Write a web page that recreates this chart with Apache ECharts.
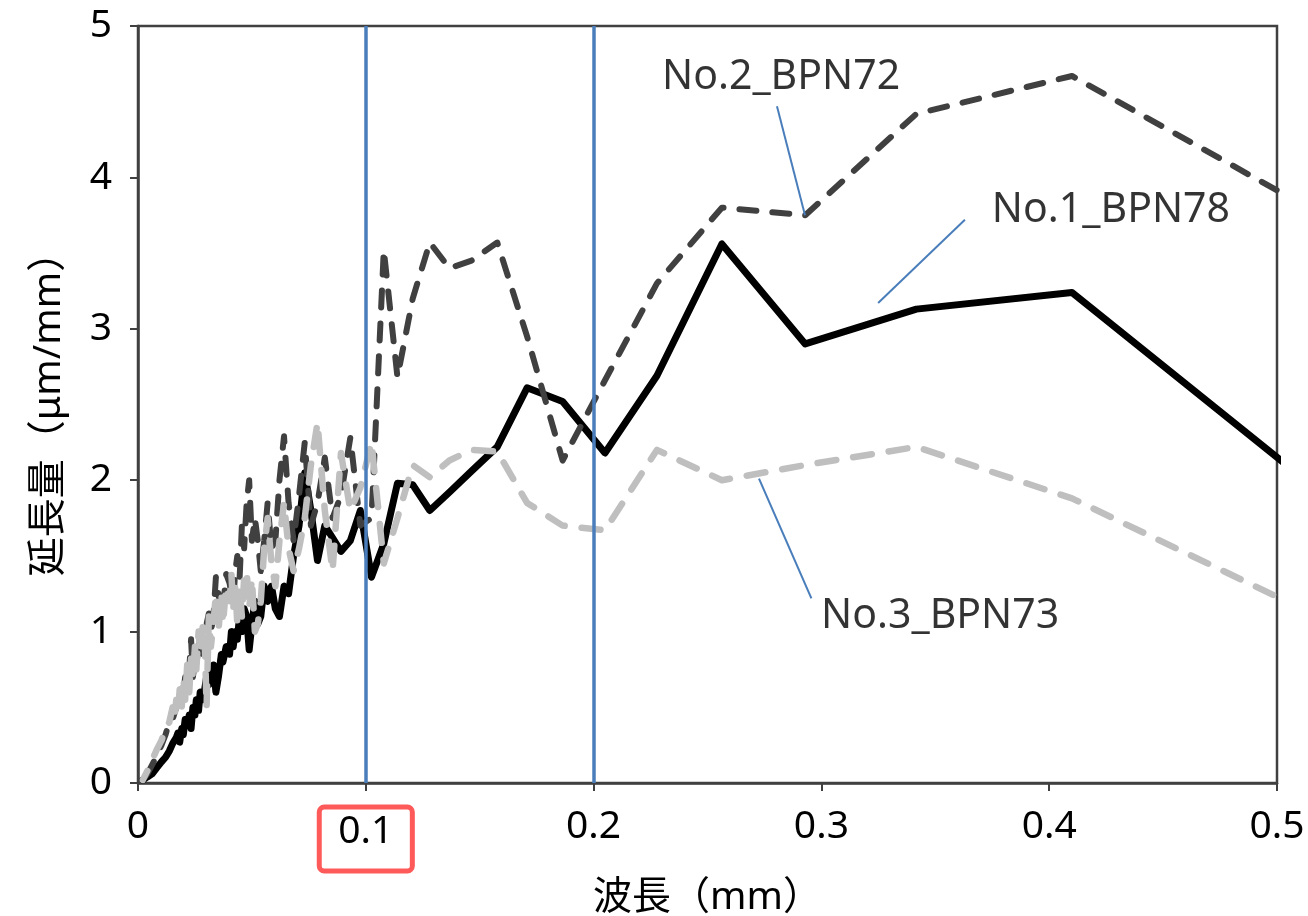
<!DOCTYPE html>
<html>
<head>
<meta charset="utf-8">
<script src="https://cdn.jsdelivr.net/npm/echarts@6/dist/echarts.min.js"></script>
<style>html,body{margin:0;padding:0;background:#fff}#c{width:1308px;height:916px}</style>
</head>
<body>
<div id="c"></div>
<script>
// wavelength (mm)
const xWave = [0.5125,0.41,0.3417,0.2929,0.2563,0.2278,0.205,0.1864,0.1708,0.1577,0.1464,0.1367,0.1281,0.1206,0.1139,0.1079,0.1025,
  0.0976,0.0932,0.0891,0.0854,0.082,0.0788,0.0759,0.0732,0.0707,0.0683,0.0661,0.0641,0.0621,0.0603,0.0586,0.0569,0.0554,0.0539,0.0526,
  0.0513,0.05,0.0488,0.0477,0.0466,0.0456,0.0446,0.0436,0.0427,0.0418,0.041,0.0402,0.0387,0.0373,0.0366,0.0353,0.0342,0.0331,0.032,0.0311,
  0.0301,0.0293,0.0285,0.0273,0.0266,0.0256,0.025,0.0241,0.0233,0.0225,0.0216,0.0207,0.0199,0.0192,0.0183,0.0175,0.0168,0.016,0.0152,
  0.0137,0.0121,0.0103,0.0082,0.0062,0.0041,0.0021];
// elongation (µm/mm)
const bpn78 = [2.00,3.24,3.13,2.90,3.56,2.69,2.18,2.52,2.61,2.22,2.06,1.92,1.80,1.97,1.98,1.58,1.36,
  1.80,1.60,1.53,1.62,1.70,1.47,1.80,2.05,1.70,1.50,1.25,1.30,1.10,1.15,1.30,1.20,1.30,1.10,1.05,
  1.20,1.05,0.88,1.10,1.15,1.00,1.10,0.95,1.00,0.90,1.00,0.85,0.90,0.80,0.85,0.70,0.60,0.78,0.75,0.65,
  0.70,0.62,0.55,0.60,0.48,0.55,0.45,0.50,0.36,0.45,0.38,0.42,0.32,0.36,0.27,0.33,0.30,0.28,0.26,
  0.21,0.17,0.14,0.10,0.06,0.04,0.02];
const bpn72 = [3.81,4.67,4.42,3.75,3.80,3.30,2.66,2.13,2.95,3.57,3.45,3.40,3.57,3.20,2.68,3.52,1.75,
  1.70,2.28,1.90,1.75,2.15,1.85,1.70,2.25,1.90,1.60,1.85,2.29,2.00,1.60,1.55,1.85,1.60,1.40,1.60,
  1.75,1.60,2.00,1.85,1.55,1.70,1.35,1.50,1.40,1.20,1.25,1.32,1.38,1.15,1.10,1.25,1.36,1.10,1.00,1.12,
  1.05,0.90,0.85,0.95,0.90,0.78,0.80,0.70,0.95,0.75,0.65,0.70,0.60,0.62,0.55,0.52,0.50,0.46,0.42,
  0.40,0.32,0.25,0.18,0.12,0.06,0.02];
const bpn73 = [1.14,1.88,2.22,2.10,2.00,2.20,1.67,1.70,1.85,2.19,2.20,2.13,2.02,2.10,1.75,1.45,2.25,
  1.95,1.80,2.18,1.40,1.80,2.38,2.10,1.75,1.55,1.40,1.55,1.85,1.60,1.30,1.45,1.75,1.55,1.20,1.05,
  1.00,1.35,1.15,1.40,1.35,1.10,1.30,1.05,1.30,1.15,1.38,1.20,1.30,1.05,1.25,1.00,1.25,1.05,0.90,1.10,
  0.50,0.95,1.05,0.85,1.00,0.75,0.90,0.70,0.82,0.60,0.78,0.55,0.70,0.50,0.62,0.45,0.55,0.42,0.50,
  0.40,0.36,0.28,0.22,0.15,0.08,0.02];
const seriesNames = ['No.1_BPN78','No.2_BPN72','No.3_BPN73'];
// annotation anchors (data units)
const labelAnchors = [[0.4271,3.78],[0.2823,4.66],[0.3521,1.10]];
const leaderLines = [[[0.363,3.72],[0.3249,3.17]],[[0.2805,4.47],[0.2928,3.75]],[[0.2726,2.01],[0.2956,1.22]]];
const refLines = [0.1, 0.2];
const highlightTick = 0.1;
const xTitle = '波長（mm）';
const yTitle = '延長量（μm/mm）';

const FONT = '"Noto Sans", "Noto Sans CJK JP", sans-serif';
const AX = '#404040';
const chart = echarts.init(document.getElementById('c'), null, {renderer:'canvas'});
const pts = arr => xWave.map((x,i)=>[x, arr[i]]);

const series = [
  {type:'line', name:seriesNames[0], data:pts(bpn78), symbol:'none', z:2, clip:true,
   lineStyle:{color:'#000000', width:7, join:'round', cap:'round'}},
  {type:'line', name:seriesNames[1], data:pts(bpn72), symbol:'none', z:3, clip:true,
   lineStyle:{color:'#404040', width:6, type:[17,16], cap:'round', join:'round'}},
  {type:'line', name:seriesNames[2], data:pts(bpn73), symbol:'none', z:4, clip:true,
   lineStyle:{color:'#BFBFBF', width:6.5, type:[19,17], cap:'round', join:'round'},
   markLine:{silent:true, symbol:'none', animation:false, label:{show:false},
     lineStyle:{color:'#4A7EBB', width:3.5, type:'solid'},
     data: refLines.map(v=>({xAxis:v}))}}
];
leaderLines.forEach((seg,i)=>{
  series.push({type:'line', data:seg, symbol:'none', z:6, silent:true,
    lineStyle:{color:'#4A7EBB', width:2}});
});
series.push({type:'scatter', data:labelAnchors, symbolSize:0, z:7, silent:true,
  label:{show:true, position:'inside', formatter:p=>seriesNames[p.dataIndex],
    fontFamily:FONT, fontSize:41, color:'#000'}});

chart.setOption({
  animation:false,
  grid:{left:138, right:31, top:26, bottom:133, show:true, borderColor:AX, borderWidth:2.5,
        containLabel:false, outerBoundsMode:'none'},
  xAxis:{type:'value', min:0, max:0.5, interval:0.1,
    name:xTitle, nameLocation:'middle', nameGap:94,
    nameTextStyle:{fontFamily:FONT, fontSize:39, color:'#000'},
    axisLine:{show:true, lineStyle:{color:AX, width:2.5}},
    axisTick:{show:true, inside:false, length:8, lineStyle:{color:AX, width:2}},
    splitLine:{show:false},
    axisLabel:{margin:24, fontFamily:FONT, fontSize:39, color:'#000',
      formatter:v=>{ const s = v===0?'0':v.toFixed(1); return Math.abs(v-highlightTick)<1e-9 ? '{hl|'+s+'}' : s; },
      rich:{hl:{fontFamily:FONT, fontSize:39, color:'#000', borderColor:'#FF5A5A', borderWidth:5, borderRadius:5, padding:[5,19,20,19]}}}},
  yAxis:{type:'value', min:0, max:5, interval:1,
    name:yTitle, nameLocation:'middle', nameGap:70, nameRotate:90,
    nameTextStyle:{fontFamily:FONT, fontSize:39, color:'#000'},
    axisLine:{show:true, lineStyle:{color:AX, width:2.5}},
    axisTick:{show:true, inside:false, length:8, lineStyle:{color:AX, width:2}},
    splitLine:{show:false},
    axisLabel:{margin:26, fontFamily:FONT, fontSize:39, color:'#000'}},
  series
});
</script>
</body>
</html>
